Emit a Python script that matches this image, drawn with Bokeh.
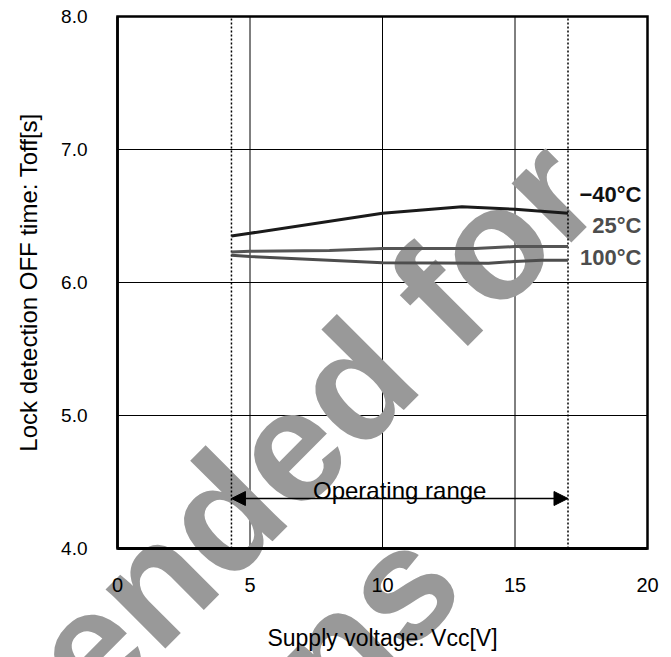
import math
from bokeh.plotting import figure
from bokeh.models import FixedTicker, NumeralTickFormatter, Label, Arrow, NormalHead, Range1d
from bokeh.embed import file_html
from bokeh.resources import INLINE

# ---- data ----
v_m40 = [4.3, 5, 10, 13, 15, 17]
t_m40 = [6.35, 6.37, 6.52, 6.57, 6.55, 6.52]
v_25 = [4.3, 5, 8, 10, 13.5, 15, 17]
t_25 = [6.23, 6.235, 6.24, 6.255, 6.255, 6.27, 6.27]
v_100 = [4.3, 5, 10, 14, 15, 16, 17]
t_100 = [6.205, 6.195, 6.148, 6.145, 6.158, 6.168, 6.168]
series_labels = ["\u221240\u00b0C", "25\u00b0C", "100\u00b0C"]
x_ticks = [0, 5, 10, 15, 20]
y_ticks = [4, 5, 6, 7, 8]
op_range = [4.3, 17]
watermark_lines = ["Not Recommended for", "New Designs"]

# ---- layout / styling ----
W, H = 671, 657
FONT = "Liberation Sans"
FRAME_L, FRAME_R, FRAME_T, FRAME_B = 117, 647, 16, 548  # chart box, canvas px
X0, X1, Y0, Y1 = x_ticks[0], x_ticks[-1], y_ticks[0], y_ticks[-1]
SX = (FRAME_R - FRAME_L) / (X1 - X0)
SY = (FRAME_B - FRAME_T) / (Y1 - Y0)


def px_to_data(px, py):
    return X0 + (px - FRAME_L) / SX, Y0 + (FRAME_B - py) / SY


xa, ya = px_to_data(0, H)
xb, yb = px_to_data(W, 0)

p = figure(width=W, height=H, x_range=Range1d(xa, xb), y_range=Range1d(ya, yb),
           output_backend="svg", toolbar_location=None, title=None,
           min_border=0, min_border_left=0, min_border_right=0,
           min_border_top=0, min_border_bottom=0)
p.background_fill_color = "white"
p.border_fill_color = "white"
p.outline_line_color = None
p.xgrid.visible = False
p.ygrid.visible = False

# axes, anchored on the chart box
p.xaxis.fixed_location = Y0
p.yaxis.fixed_location = X0
p.xaxis.bounds = (X0, X1)
p.yaxis.bounds = (Y0, Y1)
p.xaxis.ticker = FixedTicker(ticks=x_ticks)
p.yaxis.ticker = FixedTicker(ticks=y_ticks)
p.yaxis.formatter = NumeralTickFormatter(format="0.0")
for ax in (p.xaxis[0], p.yaxis[0]):
    ax.level = "overlay"
    ax.major_tick_out = 0
    ax.major_tick_in = 0
    ax.minor_tick_out = 0
    ax.minor_tick_in = 0
    ax.axis_line_color = "black"
    ax.major_label_text_font = FONT
    ax.major_label_text_color = "black"
    ax.axis_label_text_font = FONT
    ax.axis_label_text_font_style = "normal"
    ax.axis_label_text_color = "black"
p.xaxis.axis_line_width = 3
p.yaxis.axis_line_width = 2.5
p.xaxis.major_label_text_font_size = "20px"
p.yaxis.major_label_text_font_size = "19px"
p.xaxis.major_label_standoff = 29
p.yaxis.major_label_standoff = 30
p.xaxis.axis_label = "Supply voltage: Vcc[V]"
p.yaxis.axis_label = "Lock detection OFF time: Toff[s]"
p.xaxis.axis_label_text_font_size = "23px"
p.yaxis.axis_label_text_font_size = "24px"
p.xaxis.axis_label_standoff = 30
p.yaxis.axis_label_standoff = 16

# grid lines inside the chart box (below the watermark)
inner_x = x_ticks[1:-1]
inner_y = y_ticks[1:-1]
p.segment(x0=inner_x, y0=[Y0] * len(inner_x), x1=inner_x, y1=[Y1] * len(inner_x),
          line_color="black", line_width=1)
p.segment(x0=[X0] * len(inner_y), y0=inner_y, x1=[X1] * len(inner_y), y1=inner_y,
          line_color="black", line_width=1)

# watermark (above grid, below data); anchors = baseline centre of each line
wm_anchors = [(-35.0, 770.0), (80.0, 904.0)]
for txt, (cx, cy) in zip(watermark_lines, wm_anchors):
    dx, dy = px_to_data(cx, cy)
    p.add_layout(Label(x=dx, y=dy, text=txt, angle=math.pi / 4,
                       text_font=FONT, text_font_style="bold", text_font_size="159px",
                       text_color="#999999", text_align="center", text_baseline="alphabetic",
                       level="annotation"))

# chart box border
p.quad(left=[X0], right=[X1], bottom=[Y0], top=[Y1], fill_color=None,
       line_color="black", line_width=2.5, line_join="miter", level="overlay")

# operating range guides
p.segment(x0=op_range, y0=[Y0] * 2, x1=op_range, y1=[Y1] * 2, line_color="black",
          line_width=1.5, line_dash="2 2", level="overlay")

arrow_y = px_to_data(0, 498)[1]
head = dict(size=14, fill_color="black", line_color="black")
p.add_layout(Arrow(x_start=op_range[0], y_start=arrow_y, x_end=op_range[1], y_end=arrow_y,
                   start=NormalHead(**head), end=NormalHead(**head),
                   line_width=1.5, line_color="black", level="overlay"))
p.add_layout(Label(x=(op_range[0] + op_range[1]) / 2, y=px_to_data(0, 490.0)[1],
                   text="Operating range", text_font=FONT, text_font_size="24px",
                   text_color="black", text_align="center", text_baseline="alphabetic",
                   level="overlay"))

# data lines
colors = ["#1a1a1a", "#555555", "#4d4d4d"]
for vx, ty, c in zip([v_m40, v_25, v_100], [t_m40, t_25, t_100], colors):
    p.line(vx, ty, line_color=c, line_width=3, level="overlay")

# series labels
label_py = [194, 225, 257]
label_colors = ["#111111", "#4d4d4d", "#4d4d4d"]
for txt, py, c in zip(series_labels, label_py, label_colors):
    p.add_layout(Label(x=X1, y=px_to_data(0, py)[1], x_offset=-6, text=txt,
                       text_font=FONT, text_font_style="bold", text_font_size="22px",
                       text_color=c, text_align="right", text_baseline="middle",
                       level="overlay"))

open("out.html", "w").write(file_html(p, INLINE))
